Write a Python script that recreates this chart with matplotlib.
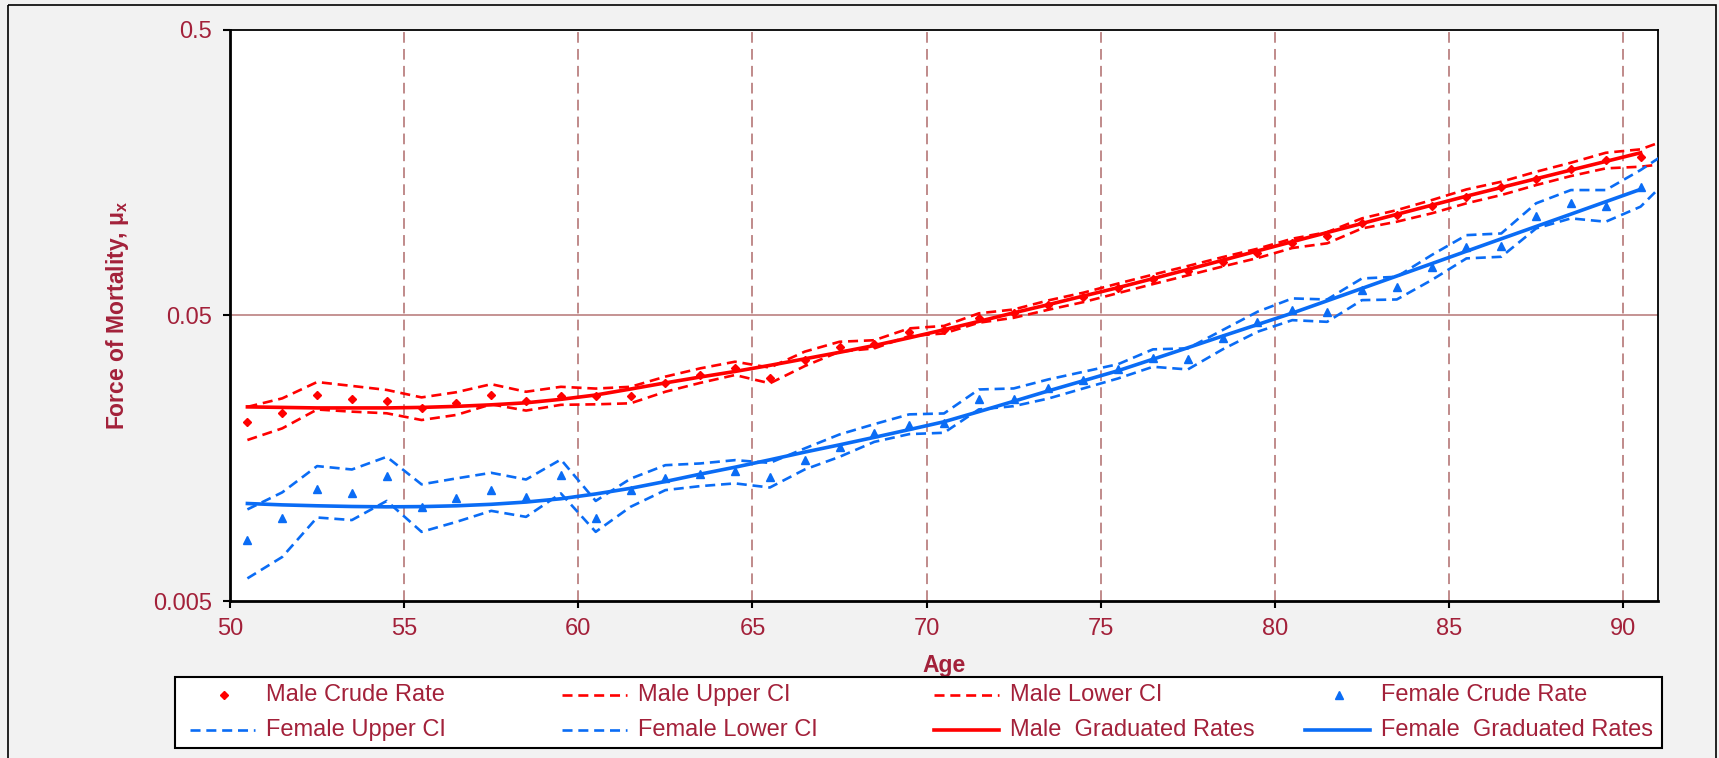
import numpy as np
import matplotlib.pyplot as plt
from matplotlib.patches import Rectangle
from matplotlib.lines import Line2D

plt.rcParams['font.family'] = ['Liberation Sans', 'DejaVu Sans']

# ages at mid-year; the confidence limits run one year further (clipped at 91)
ages = [50.5, 51.5, 52.5, 53.5, 54.5, 55.5, 56.5, 57.5, 58.5, 59.5, 60.5,
        61.5, 62.5, 63.5, 64.5, 65.5, 66.5, 67.5, 68.5, 69.5, 70.5,
        71.5, 72.5, 73.5, 74.5, 75.5, 76.5, 77.5, 78.5, 79.5, 80.5,
        81.5, 82.5, 83.5, 84.5, 85.5, 86.5, 87.5, 88.5, 89.5, 90.5]
ci_ages = ages + [91.5]

male_crude = [0.0211, 0.0228, 0.0264, 0.0254, 0.0250, 0.0236, 0.0246, 0.0264, 0.0250, 0.0261, 0.0261,
              0.0261, 0.0289, 0.0309, 0.0328, 0.0301, 0.0350, 0.0388, 0.0396, 0.0438, 0.0444,
              0.0488, 0.0508, 0.0543, 0.0578, 0.0621, 0.0668, 0.0716, 0.0770, 0.0823, 0.0892,
              0.0946, 0.1049, 0.1121, 0.1206, 0.1300, 0.1402, 0.1495, 0.1621, 0.1748, 0.1786]
male_upper = [0.0239, 0.0256, 0.0292, 0.0283, 0.0274, 0.0258, 0.0269, 0.0287, 0.0270, 0.0281, 0.0277,
              0.0281, 0.0305, 0.0326, 0.0344, 0.0328, 0.0373, 0.0404, 0.0409, 0.0450, 0.0459,
              0.0508, 0.0524, 0.0564, 0.0600, 0.0646, 0.0694, 0.0744, 0.0799, 0.0855, 0.0927,
              0.0977, 0.1092, 0.1167, 0.1265, 0.1379, 0.1467, 0.1590, 0.1710, 0.1853, 0.1905,
              0.2109]
male_lower = [0.0183, 0.0201, 0.0234, 0.0230, 0.0227, 0.0215, 0.0224, 0.0244, 0.0232, 0.0243, 0.0244,
              0.0246, 0.0270, 0.0290, 0.0309, 0.0289, 0.0332, 0.0373, 0.0383, 0.0423, 0.0432,
              0.0471, 0.0490, 0.0523, 0.0556, 0.0598, 0.0643, 0.0690, 0.0741, 0.0793, 0.0860,
              0.0893, 0.1007, 0.1063, 0.1137, 0.1233, 0.1318, 0.1428, 0.1536, 0.1634, 0.1656,
              0.1711]
male_grad = [0.0239, 0.0238, 0.0237, 0.0237, 0.0237, 0.0238, 0.0240, 0.0243, 0.0247, 0.0254, 0.0263,
             0.0276, 0.0290, 0.0304, 0.0318, 0.0334, 0.0352, 0.0371, 0.0392, 0.0417, 0.0445,
             0.0476, 0.0510, 0.0545, 0.0584, 0.0625, 0.0672, 0.0723, 0.0779, 0.0840, 0.0905,
             0.0974, 0.1048, 0.1128, 0.1214, 0.1306, 0.1401, 0.1503, 0.1612, 0.1728, 0.1853]

female_crude = [0.00817, 0.00973, 0.01229, 0.01195, 0.01368, 0.01068, 0.01143, 0.01220, 0.01152, 0.01375, 0.00973,
                0.01222, 0.01343, 0.01387, 0.01424, 0.01360, 0.01556, 0.01732, 0.01930, 0.02063, 0.02101,
                0.02537, 0.02557, 0.02773, 0.02966, 0.03232, 0.03531, 0.03503, 0.04149, 0.04744, 0.05214,
                0.05144, 0.06127, 0.06262, 0.07391, 0.08683, 0.08733, 0.1112, 0.1233, 0.1206, 0.1410]
female_upper = [0.01046, 0.0120, 0.01483, 0.01443, 0.01598, 0.0128, 0.01343, 0.01405, 0.01331, 0.01564, 0.0112,
                0.0134, 0.01494, 0.01515, 0.01556, 0.01522, 0.0171, 0.01914, 0.0208, 0.0225, 0.02267,
                0.0275, 0.02773, 0.02983, 0.03171, 0.03373, 0.0380, 0.0383, 0.04439, 0.05144, 0.05729,
                0.0568, 0.0673, 0.0682, 0.08124, 0.0954, 0.09671, 0.1233, 0.1372, 0.1372, 0.1612,
                0.194]
female_lower = [0.0060, 0.00713, 0.0098, 0.0096, 0.0112, 0.00873, 0.00946, 0.01034, 0.00985, 0.0119, 0.00873,
                0.01068, 0.01222, 0.01262, 0.0129, 0.01248, 0.01443, 0.01598, 0.01803, 0.01919, 0.0194,
                0.02342, 0.02404, 0.02557, 0.02773, 0.03006, 0.03302, 0.03232, 0.0380, 0.04378, 0.04808,
                0.04744, 0.0565, 0.0568, 0.06641, 0.07909, 0.08014, 0.1007, 0.1092, 0.1063, 0.120,
                0.1587]
female_grad = [0.01097, 0.01085, 0.01077, 0.01071, 0.01068, 0.01070, 0.01077, 0.01090, 0.01110, 0.01140, 0.01185,
               0.0124, 0.0131, 0.0139, 0.0147, 0.0156, 0.0166, 0.0176, 0.0187, 0.0199, 0.0212,
               0.0230, 0.0250, 0.0272, 0.0295, 0.0320, 0.0351, 0.0385, 0.0423, 0.0464, 0.0509,
               0.0562, 0.0621, 0.0686, 0.0758, 0.0838, 0.0926, 0.1023, 0.1130, 0.1249, 0.1380]

x_ticks = [50, 55, 60, 65, 70, 75, 80, 85, 90]
y_ticks = [0.005, 0.05, 0.5]
y_tick_labels = ['0.005', '0.05', '0.5']

RED = '#FF0000'
BLUE = '#0A6CF5'
TXT = '#A3213A'
GRID = '#C08A8A'

DASH = (3.8, 2.2)
CI_LW = 1.9
GRAD_LW = 2.6
styles = {
    'Male Crude Rate': dict(linestyle='none', marker='D', ms=4, color=RED),
    'Male Upper CI': dict(color=RED, lw=CI_LW, dashes=DASH),
    'Male Lower CI': dict(color=RED, lw=CI_LW, dashes=DASH),
    'Female Crude Rate': dict(linestyle='none', marker='^', ms=6, color=BLUE),
    'Female Upper CI': dict(color=BLUE, lw=CI_LW, dashes=DASH),
    'Female Lower CI': dict(color=BLUE, lw=CI_LW, dashes=DASH),
    'Male  Graduated Rates': dict(color=RED, lw=GRAD_LW),
    'Female  Graduated Rates': dict(color=BLUE, lw=GRAD_LW),
}

W, H = 1719, 758
fig = plt.figure(figsize=(W / 100, H / 100), dpi=100)
fig.patch.set_facecolor('#F2F2F2')

ax = fig.add_axes([230 / W, 1 - 601 / H, (1658 - 230) / W, (601 - 29.6) / H])
ax.set_facecolor('white')
ax.set_yscale('log')
ax.set_xlim(50, 91)
ax.set_ylim(0.005, 0.5)

ax.plot(ages, male_crude, zorder=4, **styles['Male Crude Rate'])
ax.plot(ci_ages, male_upper, zorder=3, **styles['Male Upper CI'])
ax.plot(ci_ages, male_lower, zorder=3, **styles['Male Lower CI'])
ax.plot(ages, female_crude, zorder=4, **styles['Female Crude Rate'])
ax.plot(ci_ages, female_upper, zorder=3, **styles['Female Upper CI'])
ax.plot(ci_ages, female_lower, zorder=3, **styles['Female Lower CI'])
ax.plot(ages, male_grad, zorder=5, **styles['Male  Graduated Rates'])
ax.plot(ages, female_grad, zorder=5, **styles['Female  Graduated Rates'])

# gridlines: dashed verticals, a single solid horizontal at 0.05
for x in x_ticks[1:]:
    ax.axvline(x, color=GRID, lw=1.4, dashes=(5.5, 3.2), zorder=1)
ax.axhline(0.05, color=GRID, lw=1.3, zorder=1)

ax.set_xticks(x_ticks)
ax.set_yticks(y_ticks)
ax.set_yticklabels(y_tick_labels)
ax.yaxis.set_minor_locator(plt.NullLocator())
ax.tick_params(axis='both', which='major', direction='out', length=5, width=1.5,
               color='black', labelsize=17, labelcolor=TXT)
ax.tick_params(axis='x', pad=7)
ax.tick_params(axis='y', pad=8)

for side in ['left', 'bottom']:
    ax.spines[side].set_linewidth(2)
for side in ['top', 'right']:
    ax.spines[side].set_linewidth(1.3)

ax.set_xlabel('Age', fontsize=16.5, fontweight='bold', color=TXT)
ax.xaxis.set_label_coords(0.5, -0.093)
ax.set_ylabel('Force of Mortality, μ$_\\mathregular{x}$', fontsize=16.5,
              fontweight='bold', color=TXT)
ax.yaxis.set_label_coords(-0.0695, 0.5)

# overlay in pixel units for the outer frame and the legend box
ov = fig.add_axes([0, 0, 1, 1], zorder=10)
ov.set_xlim(0, W)
ov.set_ylim(H, 0)
ov.axis('off')
ov.patch.set_alpha(0)

# outer frame (bottom edge falls outside the canvas)
ov.add_patch(Rectangle((8, 5), 1708, 760, fill=False, edgecolor='black', lw=1.2))

# legend: two rows of four equal-width columns
leg_left, leg_top, leg_right, leg_bottom = 175, 677, 1662, 748
ov.add_patch(Rectangle((leg_left, leg_top), leg_right - leg_left, leg_bottom - leg_top,
                       facecolor='white', edgecolor='black', lw=1.5))
legend_rows = [['Male Crude Rate', 'Male Upper CI', 'Male Lower CI', 'Female Crude Rate'],
               ['Female Upper CI', 'Female Lower CI', 'Male  Graduated Rates', 'Female  Graduated Rates']]
col_w = (leg_right - leg_left) / 4
row_y = [695, 730]
for r, row in enumerate(legend_rows):
    for c, name in enumerate(row):
        x0 = leg_left + 15 + c * col_w
        st = styles[name]
        if st.get('linestyle') == 'none':
            ov.add_line(Line2D([x0 + 34], [row_y[r]], **st))
        else:
            ov.add_line(Line2D([x0, x0 + 65], [row_y[r], row_y[r]], **st))
        ov.text(x0 + 76, row_y[r], name, fontsize=17, color=TXT, va='center', ha='left')

fig.savefig('out.png', dpi=100, facecolor=fig.get_facecolor())
